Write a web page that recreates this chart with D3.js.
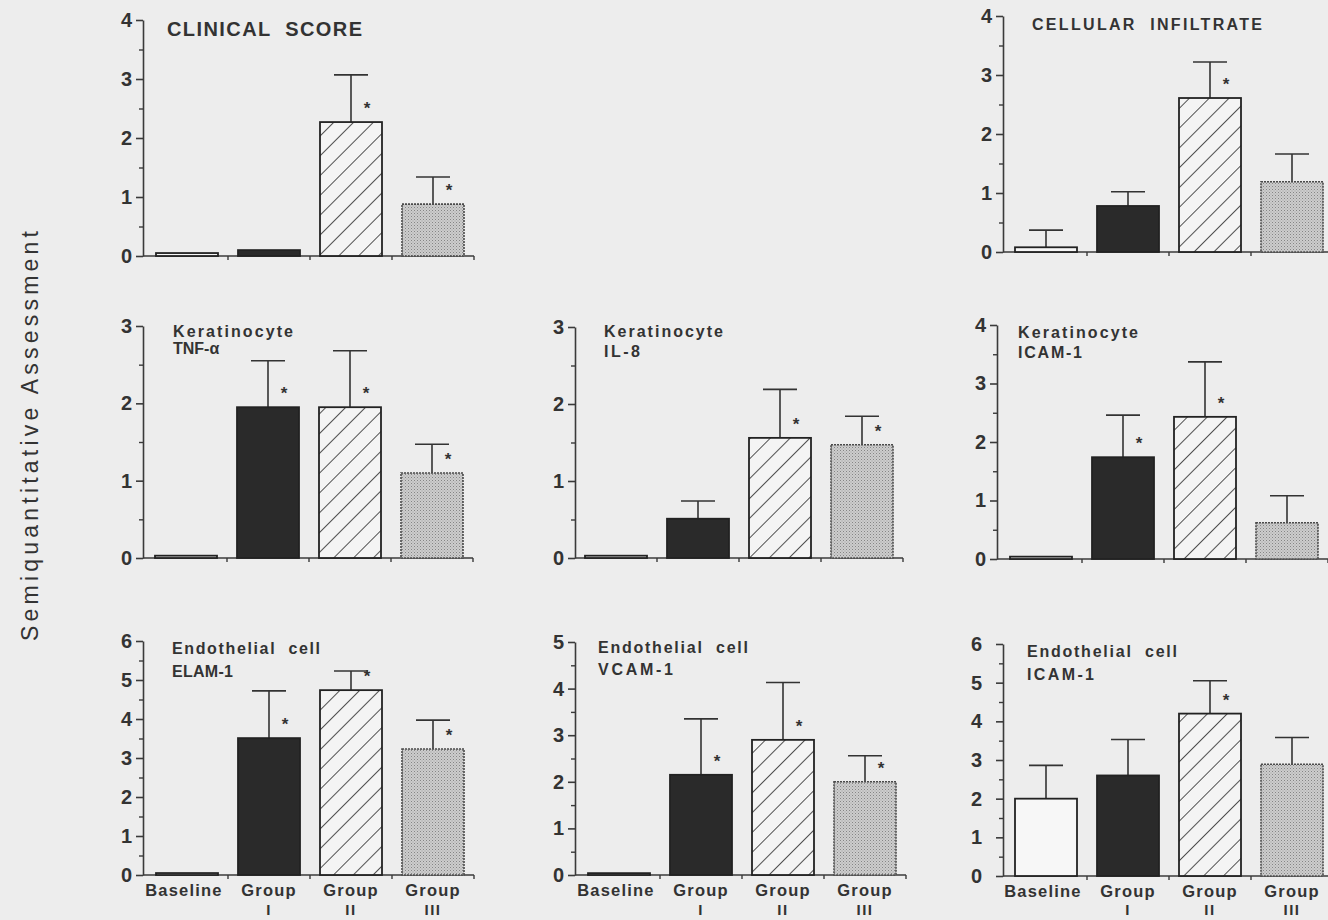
<!DOCTYPE html>
<html>
<head>
<meta charset="utf-8">
<script src="https://cdn.jsdelivr.net/npm/d3@7"></script>
<style>
  html, body { margin: 0; padding: 0; background: #ededed; }
  svg { display: block; }
  text { font-family: "Liberation Sans", Arial, Helvetica, sans-serif; fill: #333; }
</style>
</head>
<body>
<svg id="fig" width="1328" height="920"></svg>
<script>
// Treatment groups (x categories)
const groups = ["Baseline", "Group I", "Group II", "Group III"];
const groupLine1 = ["Baseline", "Group", "Group", "Group"];
const groupLine2 = ["", "I", "II", "III"];

// Mean scores, upper end of the error bar (mean + SEM), significance marks
const clinicalScore      = [0.05, 0.10, 2.27, 0.88];
const clinicalScoreUpper = [null, null, 3.07, 1.34];
const clinicalScoreSig   = [false, false, true, true];

const cellularInfiltrate      = [0.08, 0.78, 2.61, 1.19];
const cellularInfiltrateUpper = [0.37, 1.02, 3.22, 1.66];
const cellularInfiltrateSig   = [false, false, true, false];

const keratinocyteTNF      = [0.03, 1.95, 1.95, 1.10];
const keratinocyteTNFUpper = [null, 2.55, 2.68, 1.47];
const keratinocyteTNFSig   = [false, true, true, true];

const keratinocyteIL8      = [0.03, 0.51, 1.56, 1.47];
const keratinocyteIL8Upper = [null, 0.74, 2.19, 1.84];
const keratinocyteIL8Sig   = [false, false, true, true];

const keratinocyteICAM      = [0.04, 1.74, 2.43, 0.62];
const keratinocyteICAMUpper = [null, 2.46, 3.37, 1.08];
const keratinocyteICAMSig   = [false, true, true, false];

const endothelialELAM      = [0.05, 3.51, 4.74, 3.23];
const endothelialELAMUpper = [null, 4.72, 5.23, 3.97];
const endothelialELAMSig   = [false, true, true, true];

const endothelialVCAM      = [0.04, 2.15, 2.90, 2.00];
const endothelialVCAMUpper = [null, 3.35, 4.13, 2.56];
const endothelialVCAMSig   = [false, true, true, true];

const endothelialICAM      = [2.00, 2.60, 4.20, 2.89];
const endothelialICAMUpper = [2.86, 3.53, 5.05, 3.58];
const endothelialICAMSig   = [false, false, true, false];

// Y axis maxima
const yMaxima = [4, 4, 3, 3, 4, 6, 5, 6];

// Panel layout: axis position, zero line, top of axis, band start, title lines
const panels = [
  { title: ["CLINICAL  SCORE"], titleSize: 20, titleX: 167, titleY: [36], titleLen: [195],
    values: clinicalScore, upper: clinicalScoreUpper, sig: clinicalScoreSig,
    yMax: yMaxima[0], ax: 143, y0: 256, yTop: 20, bs: 146, xLabels: false },
  { title: ["CELLULAR  INFILTRATE"], titleSize: 16, titleX: 1032, titleY: [30], titleLen: [230],
    values: cellularInfiltrate, upper: cellularInfiltrateUpper, sig: cellularInfiltrateSig,
    yMax: yMaxima[1], ax: 1003, y0: 252, yTop: 16, bs: 1005, xLabels: false },
  { title: ["Keratinocyte", "TNF-\u03b1"], titleSize: 16, titleX: 173, titleY: [337, 354], titleLen: [120, null],
    values: keratinocyteTNF, upper: keratinocyteTNFUpper, sig: keratinocyteTNFSig,
    yMax: yMaxima[2], ax: 143, y0: 558, yTop: 326, bs: 145, xLabels: false },
  { title: ["Keratinocyte", "IL-8"], titleSize: 16, titleX: 604, titleY: [337, 357], titleLen: [119, 36],
    values: keratinocyteIL8, upper: keratinocyteIL8Upper, sig: keratinocyteIL8Sig,
    yMax: yMaxima[3], ax: 575, y0: 558, yTop: 327, bs: 575, xLabels: false },
  { title: ["Keratinocyte", "ICAM-1"], titleSize: 16, titleX: 1018, titleY: [338, 358], titleLen: [120, 64],
    values: keratinocyteICAM, upper: keratinocyteICAMUpper, sig: keratinocyteICAMSig,
    yMax: yMaxima[4], ax: 997, y0: 559, yTop: 325, bs: 1000, xLabels: false },
  { title: ["Endothelial  cell", "ELAM-1"], titleSize: 16, titleX: 172, titleY: [654, 677], titleLen: [148, 61],
    values: endothelialELAM, upper: endothelialELAMUpper, sig: endothelialELAMSig,
    yMax: yMaxima[5], ax: 143, y0: 875, yTop: 641, bs: 146, xLabels: true },
  { title: ["Endothelial  cell", "VCAM-1"], titleSize: 16, titleX: 598, titleY: [653, 675], titleLen: [150, 75],
    values: endothelialVCAM, upper: endothelialVCAMUpper, sig: endothelialVCAMSig,
    yMax: yMaxima[6], ax: 575, y0: 875, yTop: 642, bs: 578, xLabels: true },
  { title: ["Endothelial  cell", "ICAM-1"], titleSize: 16, titleX: 1027, titleY: [657, 680], titleLen: [150, 67],
    values: endothelialICAM, upper: endothelialICAMUpper, sig: endothelialICAMSig,
    yMax: yMaxima[7], ax: 1003, y0: 876, yTop: 644, bs: 1005, xLabels: true, labelGap: 14 }
];

const svg = d3.select("#fig");
svg.append("rect").attr("width", 1328).attr("height", 920).attr("fill", "#ededed");

// Fill patterns for the four groups
const defs = svg.append("defs");
const hatch = defs.append("pattern")
  .attr("id", "hatch").attr("patternUnits", "userSpaceOnUse")
  .attr("width", 14).attr("height", 14)
  .attr("patternTransform", "rotate(45)");
hatch.append("rect").attr("width", 14).attr("height", 14).attr("fill", "#f4f4f4");
hatch.append("line").attr("x1", 0).attr("y1", 0).attr("x2", 0).attr("y2", 14)
  .attr("stroke", "#333").attr("stroke-width", 1.7);

const stipple = defs.append("pattern")
  .attr("id", "stipple").attr("patternUnits", "userSpaceOnUse")
  .attr("width", 3).attr("height", 3);
stipple.append("rect").attr("width", 3).attr("height", 3).attr("fill", "#cdcdcd");
stipple.append("rect").attr("x", 0).attr("y", 0).attr("width", 1).attr("height", 1).attr("fill", "#858585");
stipple.append("rect").attr("x", 1.5).attr("y", 1.5).attr("width", 1).attr("height", 1).attr("fill", "#a0a0a0");

const fills = ["#f7f7f7", "#2a2a2a", "url(#hatch)", "url(#stipple)"];
const axisColor = "#3a3a3a";

panels.forEach(p => {
  const g = svg.append("g");
  const x = d3.scaleBand()
    .domain(groups)
    .range([p.bs, p.bs + 4 * 82])
    .paddingInner(20 / 82)
    .paddingOuter(10 / 82);
  const y = d3.scaleLinear().domain([0, p.yMax]).range([p.y0, p.yTop]);

  // minor ticks at half units
  const minor = d3.range(0.5, p.yMax, 1);
  g.append("g")
    .attr("transform", `translate(${p.ax},0)`)
    .call(d3.axisLeft(y).tickValues(minor).tickSize(4).tickFormat(""))
    .call(a => a.select(".domain").remove())
    .call(a => a.selectAll("line").attr("stroke", axisColor).attr("stroke-width", 1.4));

  // y axis with integer ticks
  const yAxis = g.append("g")
    .attr("transform", `translate(${p.ax},0)`)
    .call(d3.axisLeft(y).tickValues(d3.range(0, p.yMax + 1)).tickSize(7).tickSizeOuter(0).tickPadding(p.labelGap || 4).tickFormat(d3.format("d")));
  yAxis.select(".domain").attr("stroke", axisColor).attr("stroke-width", 1.6);
  yAxis.selectAll(".tick line").attr("stroke", axisColor).attr("stroke-width", 1.6);
  yAxis.selectAll(".tick text")
    .style("font-family", "'Liberation Sans', Arial, sans-serif")
    .style("font-weight", "bold").style("font-size", "20px").attr("fill", "#333");

  // x axis baseline with boundary ticks
  const xEnd = p.bs + 4 * 82;
  g.append("line")
    .attr("x1", p.ax).attr("x2", xEnd)
    .attr("y1", p.y0).attr("y2", p.y0)
    .attr("stroke", axisColor).attr("stroke-width", 1.6);
  g.selectAll(".bt").data(d3.range(1, 5)).enter().append("line")
    .attr("x1", i => p.bs + i * x.step()).attr("x2", i => p.bs + i * x.step())
    .attr("y1", p.y0).attr("y2", p.y0 + 4)
    .attr("stroke", axisColor).attr("stroke-width", 1.4);

  const rows = groups.map((gname, i) => ({
    g: gname, i, v: p.values[i], u: p.upper[i], s: p.sig[i]
  }));

  // error bars (drawn beneath the bar outline)
  const eb = rows.filter(d => d.u != null);
  g.selectAll(".err").data(eb).enter().append("line")
    .attr("x1", d => x(d.g) + x.bandwidth() / 2).attr("x2", d => x(d.g) + x.bandwidth() / 2)
    .attr("y1", d => y(d.v)).attr("y2", d => y(d.u))
    .attr("stroke", "#333").attr("stroke-width", 1.6);
  g.selectAll(".cap").data(eb).enter().append("line")
    .attr("x1", d => x(d.g) + x.bandwidth() / 2 - 17).attr("x2", d => x(d.g) + x.bandwidth() / 2 + 17)
    .attr("y1", d => y(d.u)).attr("y2", d => y(d.u))
    .attr("stroke", "#333").attr("stroke-width", 1.6);

  // bars
  g.selectAll(".bar").data(rows).enter().append("rect")
    .attr("x", d => x(d.g))
    .attr("width", x.bandwidth())
    .attr("y", d => y(d.v))
    .attr("height", d => y(0) - y(d.v))
    .attr("fill", d => fills[d.i])
    .attr("stroke", d => d.i === 3 ? "#4a4a4a" : "#222")
    .attr("stroke-width", d => d.i === 3 ? 1.6 : 1.8)
    .attr("stroke-dasharray", d => d.i === 3 ? "2 1" : null);

  // significance asterisks
  g.selectAll(".star").data(rows.filter(d => d.s)).enter().append("text")
    .attr("x", d => x(d.g) + x.bandwidth() / 2 + 16)
    .attr("y", d => y(d.v) - 8)
    .attr("text-anchor", "middle")
    .style("font-size", "17px").style("font-weight", "bold")
    .text("*");

  // panel title
  p.title.forEach((t, k) => {
    const tt = g.append("text")
      .attr("x", p.titleX).attr("y", p.titleY[k])
      .style("font-size", p.titleSize + "px").style("font-weight", "bold")
      .style("white-space", "pre")
      .attr("xml:space", "preserve")
      .text(t);
    if (p.titleLen[k]) tt.attr("textLength", p.titleLen[k]).attr("lengthAdjust", "spacing");
  });

  // category labels on the bottom row
  if (p.xLabels) {
    rows.forEach(d => {
      const cx = x(d.g) + x.bandwidth() / 2 + (d.i === 0 ? -3 : 0);
      g.append("text").attr("x", cx).attr("y", p.y0 + 21)
        .attr("text-anchor", "middle")
        .style("font-size", "16.5px").style("font-weight", "bold").style("letter-spacing", "1.2px")
        .text(groupLine1[d.i]);
      if (groupLine2[d.i]) {
        g.append("text").attr("x", cx).attr("y", 915)
          .attr("text-anchor", "middle")
          .style("font-size", "15px").style("font-weight", "bold").style("letter-spacing", "1.5px")
          .text(groupLine2[d.i]);
      }
    });
  }
});

// shared y axis title
svg.append("text")
  .attr("transform", "translate(38,436) rotate(-90)")
  .attr("text-anchor", "middle")
  .attr("textLength", 410).attr("lengthAdjust", "spacing")
  .style("font-size", "23px").attr("fill", "#3c3c3c")
  .text("Semiquantitative Assessment");
</script>
</body>
</html>
